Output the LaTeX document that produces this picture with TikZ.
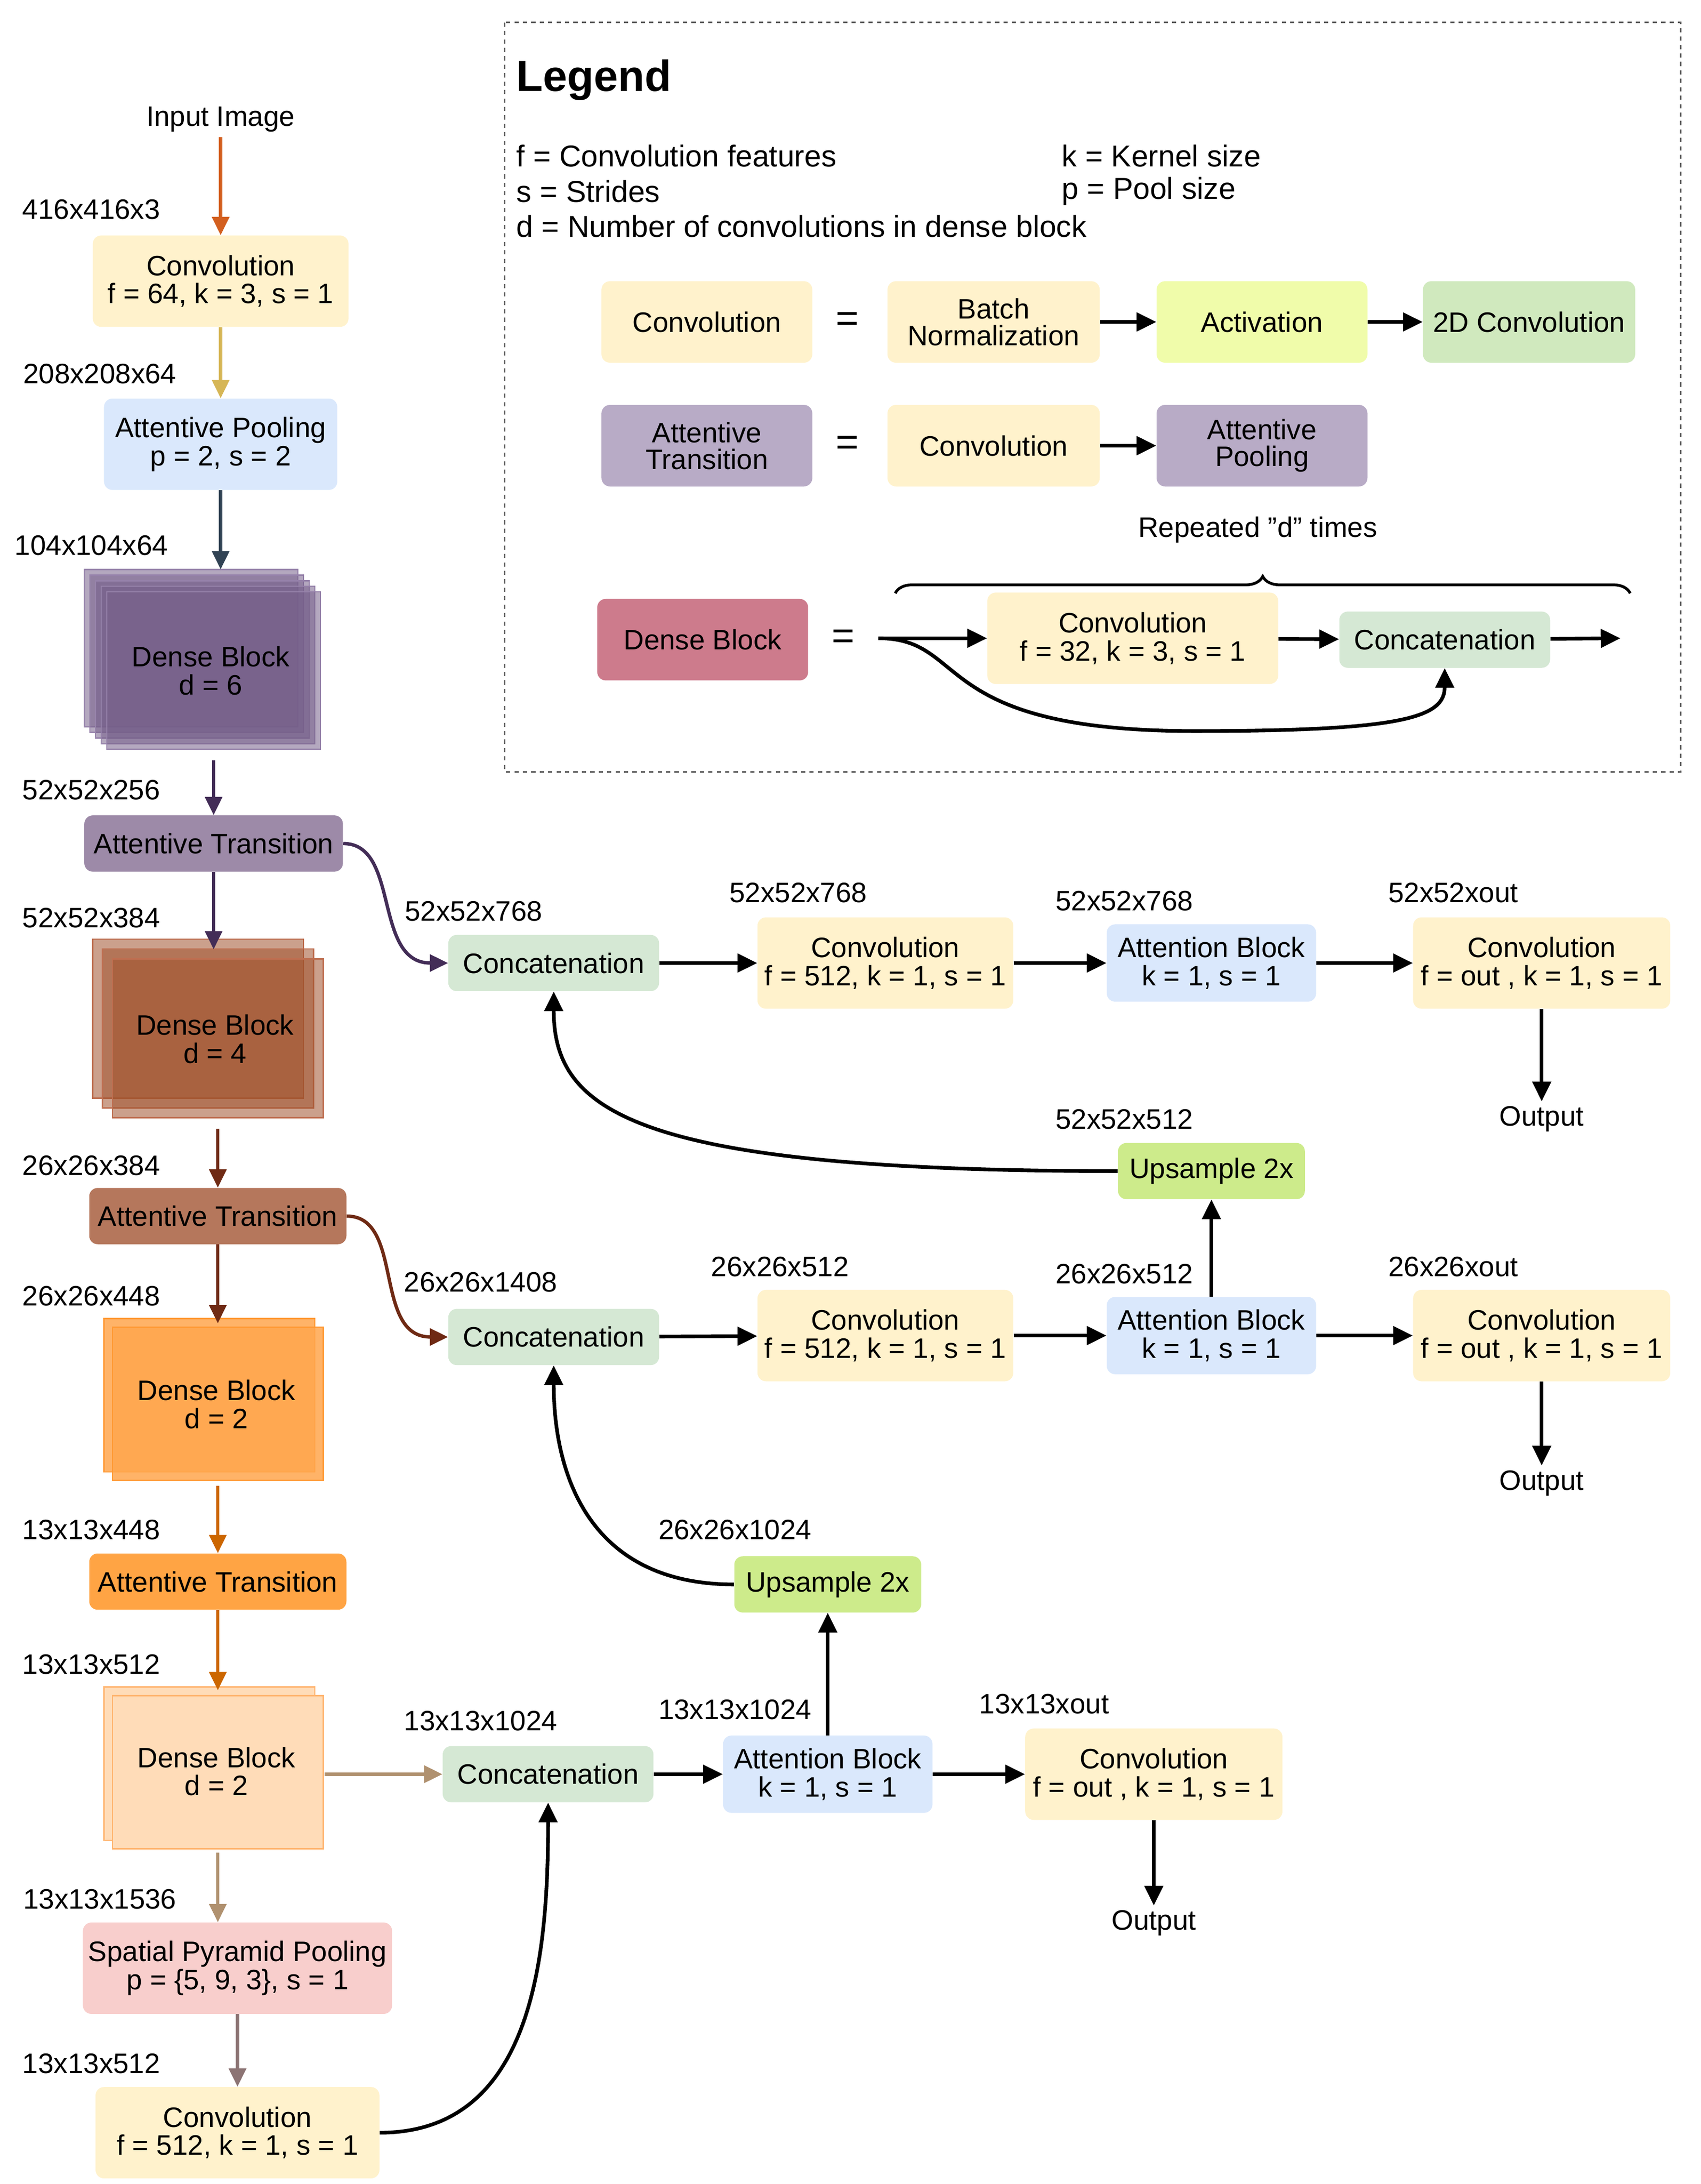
\documentclass[tikz,border=0pt]{standalone}
\usepackage{fontspec}
\setmainfont{Liberation Sans}
\usetikzlibrary{arrows.meta,decorations.pathreplacing}
\definecolor{cy}{HTML}{FFF2CC}
\definecolor{cb}{HTML}{DAE8FC}
\definecolor{cg}{HTML}{D5E8D4}
\definecolor{cu}{HTML}{CDEB8B}
\definecolor{cp}{HTML}{F8CECC}
\begin{document}
\begin{tikzpicture}[x=1pt,y=-1pt,
  every node/.style={font=\fontsize{20}{23}\selectfont},
  box/.style={rounded corners=6pt,align=center,draw=none,inner sep=2pt},
  lab/.style={font=\fontsize{20}{23}\selectfont},
  lt/.style={font=\fontsize{21.5}{24}\selectfont},
  ar/.style={line width=2.6pt,-{Triangle[length=14pt,width=13pt]}},
  ar2/.style={line width=2.4pt,-{Triangle[length=13pt,width=12pt]}}]
\useasboundingbox (0,0) rectangle (1210,1553.5);
% legend
\draw[dashed,line width=1pt,gray!70!black] (359,16) rectangle (1196,549);
\node[anchor=west,font=\fontsize{31}{34}\selectfont\bfseries] (lg) at (364,57) {Legend};
\node[lt,anchor=west] (l1) at (364,111) {f = Convolution features};
\node[lt,anchor=west] (l2) at (364,136) {s = Strides};
\node[lt,anchor=west] (l3) at (364,161) {d = Number of convolutions in dense block};
\node[lt,anchor=west] (l4) at (752,111) {k = Kernel size};
\node[lt,anchor=west] (l5) at (752,136) {p = Pool size};
\node[box,fill=cy,minimum width=150,minimum height=58] (lc) at (503,229) {Convolution};
\node[font=\fontsize{28}{30}\selectfont] (e1) at (603,229) {=};
\node[box,fill=cy,minimum width=151,minimum height=58] (lbn) at (707,229) {Batch\\[-4pt]Normalization};
\node[box,fill={rgb,255:red,240;green,252;blue,170},minimum width=150,minimum height=58] (lac) at (898,229) {Activation};
\node[box,fill={rgb,255:red,208;green,233;blue,190},minimum width=151,minimum height=58] (l2d) at (1088,229) {2D Convolution};
\draw[ar] (lbn) -- (lac); \draw[ar] (lac) -- (l2d);
\node[box,fill={rgb,255:red,184;green,171;blue,198},minimum width=150,minimum height=58] (lat) at (503,317) {Attentive\\[-4pt]Transition};
\node[font=\fontsize{28}{30}\selectfont] (e2) at (603,317) {=};
\node[box,fill=cy,minimum width=151,minimum height=58] (lc2) at (707,317) {Convolution};
\node[box,fill={rgb,255:red,184;green,171;blue,198},minimum width=150,minimum height=58] (lap) at (898,317) {Attentive\\[-4pt]Pooling};
\draw[ar] (lc2) -- (lap);
\node (rep) at (895,377) {Repeated \char34 d\char34\ times};
\draw[line width=2pt,decorate,decoration={brace,amplitude=12pt}] (637,422) -- (1160,422);
\node[box,fill={rgb,255:red,205;green,123;blue,140},minimum width=150,minimum height=58] (ldb) at (500,455) {Dense Block};
\node[font=\fontsize{28}{30}\selectfont] (e3) at (600,455) {=};
\coordinate (ls) at (625,454);
\node[box,fill=cy,minimum width=207,minimum height=65] (lc3) at (806,454) {Convolution\\[-3pt]f = 32, k = 3, s = 1};
\node[box,fill=cg,minimum width=150,minimum height=40] (lcc) at (1028,455) {Concatenation};
\coordinate (le) at (1153,454);
\draw[ar] (ls) -- (lc3); \draw[ar] (lc3) -- (lcc); \draw[ar] (lcc) -- (le);
\draw[ar] (ls) .. controls (690,454) and (660,520) .. (850,520) .. controls (1000,520) and (1028,510) .. (lcc.south);
% left column
\node (in) at (157,85) {Input Image};
\node[lab] at (65,149) {416x416x3};
\node[box,fill=cy,minimum width=182,minimum height=65] (c1) at (157,200) {Convolution\\[-3pt]f = 64, k = 3, s = 1};
\node[lab] at (71,266) {208x208x64};
\node[box,fill=cb,minimum width=166,minimum height=65] (ap) at (157,316) {Attentive Pooling\\[-3pt]p = 2, s = 2};
\node[lab] at (65,388) {104x104x64};
\foreach \i in {0,...,4}{\fill[fill={rgb,255:red,118;green,96;blue,138},fill opacity=0.55,draw={rgb,255:red,150;green,130;blue,170},line width=1pt] (60+4*\i,405+4*\i) rectangle ++(152,112);}
\node[align=center,minimum width=168,minimum height=127] (d6) at (150,477) {Dense Block\\[-3pt]d = 6};
\node[lab] at (65,562) {52x52x256};
\node[box,fill={rgb,255:red,157;green,138;blue,168},minimum width=184,minimum height=40] (at1) at (152,600) {Attentive Transition};
\node[lab] at (65,653) {52x52x384};
\foreach \i in {0,...,2}{\fill[fill={rgb,255:red,160;green,82;blue,45},fill opacity=0.55,draw={rgb,255:red,190;green,110;blue,80},line width=1pt] (66+7*\i,668+7*\i) rectangle ++(150,113);}
\node[align=center,minimum width=164,minimum height=127] (d4) at (153,739) {Dense Block\\[-3pt]d = 4};
\node[lab] at (65,829) {26x26x384};
\node[box,fill={rgb,255:red,181;green,119;blue,92},minimum width=183,minimum height=40] (at2) at (155,865) {Attentive Transition};
\node[lab] at (65,922) {26x26x448};
\foreach \i in {0,...,1}{\fill[fill={rgb,255:red,255;green,166;blue,77},fill opacity=0.85,draw={rgb,255:red,255;green,153;blue,51},line width=1pt] (74+6*\i,938+6*\i) rectangle ++(150,109);}
\node[align=center,minimum width=156,minimum height=115] (d2a) at (154,999) {Dense Block\\[-3pt]d = 2};
\node[lab] at (65,1088) {13x13x448};
\node[box,fill={rgb,255:red,255;green,164;blue,68},minimum width=183,minimum height=40] (at3) at (155,1125) {Attentive Transition};
\node[lab] at (65,1184) {13x13x512};
\foreach \i in {0,...,1}{\fill[fill={rgb,255:red,255;green,220;blue,184},draw={rgb,255:red,255;green,181;blue,112},line width=1pt] (74+6*\i,1200+6*\i) rectangle ++(150,109);}
\node[align=center,minimum width=156,minimum height=115] (d2b) at (154,1260) {Dense Block\\[-3pt]d = 2};
\node[lab] at (71,1351) {13x13x1536};
\node[box,fill=cp,minimum width=220,minimum height=65] (spp) at (169,1400) {Spatial Pyramid Pooling\\[-3pt]p = \{5, 9, 3\}, s = 1};
\node[lab] at (65,1468) {13x13x512};
\node[box,fill=cy,minimum width=202,minimum height=65] (cl) at (169,1517) {Convolution\\[-3pt]f = 512, k = 1, s = 1};
\colorlet{pu}{rgb,255:red,67;green,45;blue,87}
\colorlet{br}{rgb,255:red,111;green,42;blue,20}
\colorlet{or}{rgb,255:red,204;green,102;blue,0}
\colorlet{tn}{rgb,255:red,176;green,145;blue,111}
\draw[ar2,draw={rgb,255:red,211;green,95;blue,31}] (in) -- (c1);
\draw[ar2,draw={rgb,255:red,214;green,182;blue,86}] (c1) -- (ap);
\draw[ar2,draw={rgb,255:red,49;green,67;blue,84}] (ap) -- (157,405);
\draw[ar2,draw=pu] (d6.south -| at1) -- (at1);
\draw[ar2,draw=pu] (at1) -- (d4.north -| at1);
\draw[ar2,draw=br] (d4.south -| at2) -- (at2);
\draw[ar2,draw=br] (at2) -- (d2a.north -| at2);
\draw[ar2,draw=or] (d2a.south -| at3) -- (at3);
\draw[ar2,draw=or] (at3) -- (d2b.north -| at3);
\draw[ar2,draw=tn] (d2b.south -| at3) -- (spp.north -| at3);
\draw[ar2,draw={rgb,255:red,140;green,116;blue,116}] (spp) -- (cl);
% right rows
\node[lab] at (337,648) {52x52x768};
\node[box,fill=cg,minimum width=150,minimum height=40] (cc1) at (394,685) {Concatenation};
\node[lab] at (568,635) {52x52x768};
\node[box,fill=cy,minimum width=182,minimum height=65] (cv1) at (630,685) {Convolution\\[-3pt]f = 512, k = 1, s = 1};
\node[lab] at (800,641) {52x52x768};
\node[box,fill=cb,minimum width=149,minimum height=55] (ab1) at (862,685) {Attention Block\\[-3pt]k = 1, s = 1};
\node[lab] at (1034,635) {52x52xout};
\node[box,fill=cy,minimum width=183,minimum height=65] (co1) at (1097,685) {Convolution\\[-3pt]f = out , k = 1, s = 1};
\node (o1) at (1097,796) {Output};
\node[lab] at (800,796) {52x52x512};
\node[box,fill=cu,minimum width=133,minimum height=40] (up1) at (862,833) {Upsample 2x};
\draw[ar] (cc1) -- (cv1); \draw[ar] (cv1) -- (ab1); \draw[ar] (ab1) -- (co1); \draw[ar] (co1) -- (o1);
\draw[ar2,draw=pu] (at1.east) .. controls (285,600) and (265,685) .. (cc1.west);
\draw[ar] (up1.west) .. controls (450,833) and (394,790) .. (cc1.south);
\node[lab] at (342,912) {26x26x1408};
\node[box,fill=cg,minimum width=150,minimum height=40] (cc2) at (394,951) {Concatenation};
\node[lab] at (555,901) {26x26x512};
\node[box,fill=cy,minimum width=182,minimum height=65] (cv2) at (630,950) {Convolution\\[-3pt]f = 512, k = 1, s = 1};
\node[lab] at (800,906) {26x26x512};
\node[box,fill=cb,minimum width=149,minimum height=55] (ab2) at (862,950) {Attention Block\\[-3pt]k = 1, s = 1};
\node[lab] at (1034,901) {26x26xout};
\node[box,fill=cy,minimum width=183,minimum height=65] (co2) at (1097,950) {Convolution\\[-3pt]f = out , k = 1, s = 1};
\node (o2) at (1097,1055) {Output};
\node[lab] at (523,1088) {26x26x1024};
\node[box,fill=cu,minimum width=133,minimum height=40] (up2) at (589,1127) {Upsample 2x};
\draw[ar] (cc2) -- (cv2); \draw[ar] (cv2) -- (ab2); \draw[ar] (ab2) -- (co2); \draw[ar] (co2) -- (o2);
\draw[ar] (ab2) -- (up1);
\draw[ar2,draw=br] (at2.east) .. controls (288,865) and (265,951) .. (cc2.west);
\draw[ar] (up2.west) .. controls (420,1127) and (394,1050) .. (cc2.south);
\node[lab] at (342,1224) {13x13x1024};
\node[box,fill=cg,minimum width=150,minimum height=40] (cc3) at (390,1262) {Concatenation};
\node[lab] at (523,1216) {13x13x1024};
\node[box,fill=cb,minimum width=149,minimum height=55] (ab3) at (589,1262) {Attention Block\\[-3pt]k = 1, s = 1};
\node[lab] at (743,1212) {13x13xout};
\node[box,fill=cy,minimum width=183,minimum height=65] (co3) at (821,1262) {Convolution\\[-3pt]f = out , k = 1, s = 1};
\node (o3) at (821,1368) {Output};
\draw[ar2,draw=tn] (231,1262) -- (cc3);
\draw[ar] (cc3) -- (ab3); \draw[ar] (ab3) -- (co3); \draw[ar] (co3) -- (o3);
\draw[ar] (ab3) -- (up2);
\draw[ar] (cl.east) .. controls (380,1517) and (390,1390) .. (cc3.south);
\end{tikzpicture}
\end{document}
